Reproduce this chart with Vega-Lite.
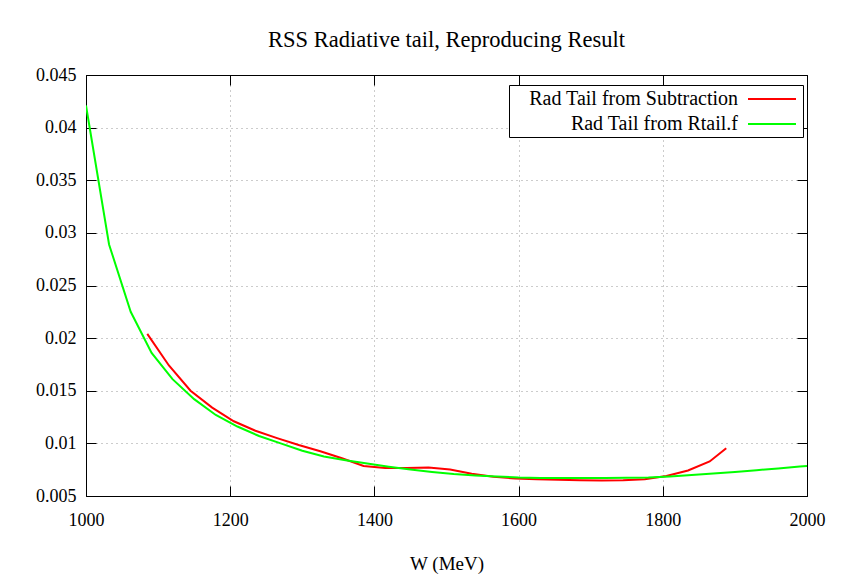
{
  "$schema": "https://vega.github.io/schema/vega-lite/v6.json",
  "width": 721,
  "height": 421,
  "autosize": {"type": "none"},
  "padding": {"left": 86, "top": 75, "right": 57, "bottom": 80},
  "background": "white",
  "title": {
    "text": "RSS Radiative tail, Reproducing Result",
    "font": "Liberation Serif",
    "fontSize": 22.5,
    "fontWeight": "normal",
    "color": "black",
    "anchor": "middle",
    "offset": 15
  },
  "data": {
    "values": [
      {"W": 1085, "tail": 0.0204, "series": "Rad Tail from Subtraction"},
      {"W": 1115, "tail": 0.0174, "series": "Rad Tail from Subtraction"},
      {"W": 1145, "tail": 0.0150, "series": "Rad Tail from Subtraction"},
      {"W": 1175, "tail": 0.0134, "series": "Rad Tail from Subtraction"},
      {"W": 1205, "tail": 0.0121, "series": "Rad Tail from Subtraction"},
      {"W": 1235, "tail": 0.0112, "series": "Rad Tail from Subtraction"},
      {"W": 1265, "tail": 0.0105, "series": "Rad Tail from Subtraction"},
      {"W": 1295, "tail": 0.00985, "series": "Rad Tail from Subtraction"},
      {"W": 1325, "tail": 0.00925, "series": "Rad Tail from Subtraction"},
      {"W": 1355, "tail": 0.00858, "series": "Rad Tail from Subtraction"},
      {"W": 1385, "tail": 0.00785, "series": "Rad Tail from Subtraction"},
      {"W": 1415, "tail": 0.00765, "series": "Rad Tail from Subtraction"},
      {"W": 1445, "tail": 0.00765, "series": "Rad Tail from Subtraction"},
      {"W": 1475, "tail": 0.00770, "series": "Rad Tail from Subtraction"},
      {"W": 1505, "tail": 0.00752, "series": "Rad Tail from Subtraction"},
      {"W": 1535, "tail": 0.00712, "series": "Rad Tail from Subtraction"},
      {"W": 1565, "tail": 0.00683, "series": "Rad Tail from Subtraction"},
      {"W": 1595, "tail": 0.00667, "series": "Rad Tail from Subtraction"},
      {"W": 1625, "tail": 0.00660, "series": "Rad Tail from Subtraction"},
      {"W": 1655, "tail": 0.00655, "series": "Rad Tail from Subtraction"},
      {"W": 1685, "tail": 0.00650, "series": "Rad Tail from Subtraction"},
      {"W": 1715, "tail": 0.00648, "series": "Rad Tail from Subtraction"},
      {"W": 1745, "tail": 0.00650, "series": "Rad Tail from Subtraction"},
      {"W": 1775, "tail": 0.00660, "series": "Rad Tail from Subtraction"},
      {"W": 1805, "tail": 0.00690, "series": "Rad Tail from Subtraction"},
      {"W": 1835, "tail": 0.00742, "series": "Rad Tail from Subtraction"},
      {"W": 1865, "tail": 0.00828, "series": "Rad Tail from Subtraction"},
      {"W": 1888, "tail": 0.00953, "series": "Rad Tail from Subtraction"},
      {"W": 1000, "tail": 0.0421, "series": "Rad Tail from Rtail.f"},
      {"W": 1032, "tail": 0.0289, "series": "Rad Tail from Rtail.f"},
      {"W": 1062, "tail": 0.0225, "series": "Rad Tail from Rtail.f"},
      {"W": 1091, "tail": 0.0186, "series": "Rad Tail from Rtail.f"},
      {"W": 1120, "tail": 0.0161, "series": "Rad Tail from Rtail.f"},
      {"W": 1150, "tail": 0.0142, "series": "Rad Tail from Rtail.f"},
      {"W": 1180, "tail": 0.0127, "series": "Rad Tail from Rtail.f"},
      {"W": 1210, "tail": 0.0116, "series": "Rad Tail from Rtail.f"},
      {"W": 1240, "tail": 0.0107, "series": "Rad Tail from Rtail.f"},
      {"W": 1270, "tail": 0.0100, "series": "Rad Tail from Rtail.f"},
      {"W": 1300, "tail": 0.0093, "series": "Rad Tail from Rtail.f"},
      {"W": 1330, "tail": 0.00875, "series": "Rad Tail from Rtail.f"},
      {"W": 1360, "tail": 0.00840, "series": "Rad Tail from Rtail.f"},
      {"W": 1390, "tail": 0.00808, "series": "Rad Tail from Rtail.f"},
      {"W": 1420, "tail": 0.00778, "series": "Rad Tail from Rtail.f"},
      {"W": 1450, "tail": 0.00752, "series": "Rad Tail from Rtail.f"},
      {"W": 1480, "tail": 0.00728, "series": "Rad Tail from Rtail.f"},
      {"W": 1510, "tail": 0.00708, "series": "Rad Tail from Rtail.f"},
      {"W": 1540, "tail": 0.00695, "series": "Rad Tail from Rtail.f"},
      {"W": 1570, "tail": 0.00685, "series": "Rad Tail from Rtail.f"},
      {"W": 1600, "tail": 0.00676, "series": "Rad Tail from Rtail.f"},
      {"W": 1630, "tail": 0.00672, "series": "Rad Tail from Rtail.f"},
      {"W": 1660, "tail": 0.00670, "series": "Rad Tail from Rtail.f"},
      {"W": 1690, "tail": 0.00670, "series": "Rad Tail from Rtail.f"},
      {"W": 1720, "tail": 0.00671, "series": "Rad Tail from Rtail.f"},
      {"W": 1750, "tail": 0.00673, "series": "Rad Tail from Rtail.f"},
      {"W": 1780, "tail": 0.00676, "series": "Rad Tail from Rtail.f"},
      {"W": 1810, "tail": 0.00686, "series": "Rad Tail from Rtail.f"},
      {"W": 1840, "tail": 0.00700, "series": "Rad Tail from Rtail.f"},
      {"W": 1870, "tail": 0.00714, "series": "Rad Tail from Rtail.f"},
      {"W": 1900, "tail": 0.00729, "series": "Rad Tail from Rtail.f"},
      {"W": 1930, "tail": 0.00745, "series": "Rad Tail from Rtail.f"},
      {"W": 1960, "tail": 0.00762, "series": "Rad Tail from Rtail.f"},
      {"W": 1990, "tail": 0.00780, "series": "Rad Tail from Rtail.f"},
      {"W": 2000, "tail": 0.00786, "series": "Rad Tail from Rtail.f"}
    ]
  },
  "layer": [
    {
      "transform": [{"filter": "datum.series === 'Rad Tail from Subtraction'"}],
      "mark": {"type": "line", "strokeWidth": 2, "clip": true},
      "encoding": {
        "x": {
          "field": "W",
          "type": "quantitative",
          "scale": {"domain": [1000, 2000], "nice": false, "zero": false},
          "axis": {
            "orient": "bottom",
            "title": "W (MeV)",
            "values": [1000, 1200, 1400, 1600, 1800, 2000],
            "format": "d",
            "grid": true,
            "labelPadding": 25,
            "titlePadding": 25
          }
        },
        "y": {
          "field": "tail",
          "type": "quantitative",
          "scale": {"domain": [0.005, 0.045], "nice": false, "zero": false},
          "axis": {
            "orient": "left",
            "title": null,
            "values": [0.005, 0.01, 0.015, 0.02, 0.025, 0.03, 0.035, 0.04, 0.045],
            "format": "~g",
            "grid": true
          }
        },
        "color": {
          "field": "series",
          "type": "nominal",
          "scale": {
            "domain": ["Rad Tail from Subtraction", "Rad Tail from Rtail.f"],
            "range": ["#ff0000", "#00ff00"]
          },
          "legend": {
            "title": null,
            "orient": "none",
            "legendX": 423,
            "legendY": 10,
            "symbolType": "M-2.4,0H2.4",
            "symbolSize": 400,
            "symbolStrokeWidth": 2,
            "symbolOffset": 249,
            "labelAlign": "right",
            "labelOffset": -45,
            "labelFont": "Liberation Serif",
            "labelFontSize": 20,
            "labelColor": "black",
            "labelLimit": 0,
            "strokeColor": "black",
            "fillColor": "white",
            "padding": 3,
            "rowPadding": 4
          }
        }
      }
    },
    {
      "transform": [{"filter": "datum.series === 'Rad Tail from Rtail.f'"}],
      "mark": {"type": "line", "strokeWidth": 2, "clip": true},
      "encoding": {
        "x": {
          "field": "W",
          "type": "quantitative",
          "axis": {
            "orient": "top",
            "title": null,
            "labels": false,
            "grid": false,
            "values": [1000, 1200, 1400, 1600, 1800, 2000]
          }
        },
        "y": {
          "field": "tail",
          "type": "quantitative",
          "axis": {
            "orient": "right",
            "title": null,
            "labels": false,
            "grid": false,
            "values": [0.005, 0.01, 0.015, 0.02, 0.025, 0.03, 0.035, 0.04, 0.045]
          }
        },
        "color": {
          "field": "series",
          "type": "nominal"
        }
      }
    }
  ],
  "resolve": {"axis": {"x": "independent", "y": "independent"}},
  "config": {
    "view": {"stroke": "black", "strokeWidth": 1},
    "axis": {
      "domainColor": "black",
      "domainWidth": 1,
      "tickColor": "black",
      "tickSize": -10,
      "tickWidth": 1,
      "labelFont": "Liberation Serif",
      "labelFontSize": 18,
      "labelColor": "black",
      "labelPadding": 20,
      "labelFlush": false,
      "labelOverlap": false,
      "gridColor": "#999999",
      "gridDash": [1, 4],
      "gridWidth": 1,
      "titleFont": "Liberation Serif",
      "titleFontSize": 19,
      "titleFontWeight": "normal",
      "titleColor": "black"
    }
  }
}
